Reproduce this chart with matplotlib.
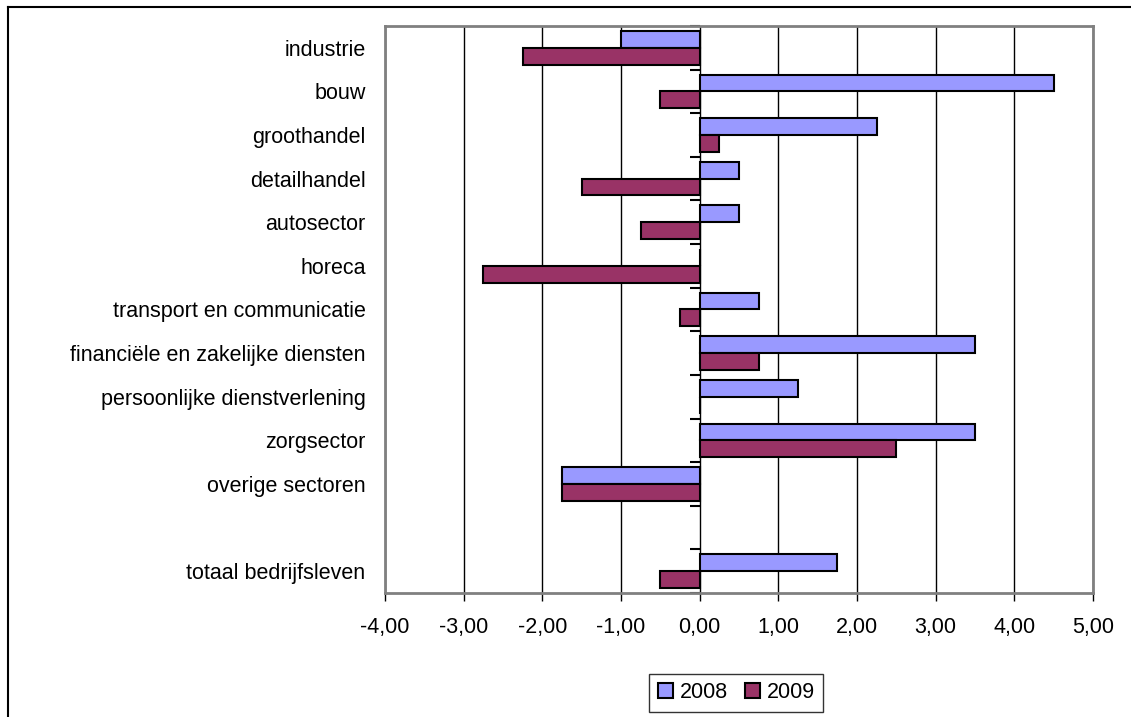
import numpy as np
import matplotlib.pyplot as plt
from matplotlib.lines import Line2D

plt.rcParams['font.family'] = ['Liberation Sans', 'DejaVu Sans']

categories = ["industrie", "bouw", "groothandel", "detailhandel", "autosector",
              "horeca", "transport en communicatie", "financiële en zakelijke diensten",
              "persoonlijke dienstverlening", "zorgsector", "overige sectoren",
              "", "totaal bedrijfsleven"]
vals_2008 = [-1.00, 4.50, 2.25, 0.50, 0.50, 0.00, 0.75, 3.50, 1.25, 3.50, -1.75, np.nan, 1.75]
vals_2009 = [-2.25, -0.50, 0.25, -1.50, -0.75, -2.75, -0.25, 0.75, 0.00, 2.50, -1.75, np.nan, -0.50]
years = ["2008", "2009"]
colors = ["#9999FF", "#993366"]

fig = plt.figure(figsize=(11.31, 7.17), dpi=100)
ax = fig.add_axes([0.3404, 0.1730, 0.6260, 0.7907])

fs = 15.5
y = np.arange(len(categories))
h = 0.385
ax.barh(y - h / 2, vals_2008, height=h, color=colors[0], edgecolor="black",
        linewidth=1.5, label=years[0], zorder=3)
ax.barh(y + h / 2, vals_2009, height=h, color=colors[1], edgecolor="black",
        linewidth=1.5, label=years[1], zorder=3)

ax.set_xlim(-4, 5)
ax.set_ylim(len(categories) - 0.5, -0.5)
ax.set_xticks(np.arange(-4, 6, 1))
ax.set_xticklabels([f"{v:.2f}".replace(".", ",") for v in np.arange(-4, 6, 1)], fontsize=fs)
ax.tick_params(axis="x", direction="out", length=6, width=1, color="black", pad=11)
ax.set_yticks(y)
ax.set_yticklabels(categories, fontsize=fs)
ax.tick_params(axis="y", length=0, pad=14)
ax.grid(axis="x", color="black", linewidth=1, zorder=0)
ax.set_axisbelow(True)
for s in ax.spines.values():
    s.set_color("#808080")
    s.set_linewidth(2)

# category-axis crossing at 0 with ticks between categories
sec = ax.secondary_yaxis(4 / 9)
sec.set_yticks(np.arange(-0.5, len(categories), 1))
sec.set_yticklabels([])
sec.tick_params(axis="y", direction="out", length=7, width=1.5, color="black")
sec.spines["left"].set_visible(False)
sec.spines["right"].set_visible(False)

leg = ax.legend(loc="center", bbox_to_anchor=(0.651, 0.0335), bbox_transform=fig.transFigure,
                ncol=2, fontsize=fs, frameon=True, fancybox=False, edgecolor="black",
                handlelength=0.7, handleheight=0.7, handletextpad=0.3, columnspacing=0.8,
                borderpad=0.4)
leg.get_frame().set_linewidth(1)

# outer chart border
fig.add_artist(Line2D([0.007, 0.007], [0, 0.990], color="black", linewidth=1.5))
fig.add_artist(Line2D([0.007, 1.0], [0.990, 0.990], color="black", linewidth=1.5))

fig.savefig("out.png", dpi=100)
